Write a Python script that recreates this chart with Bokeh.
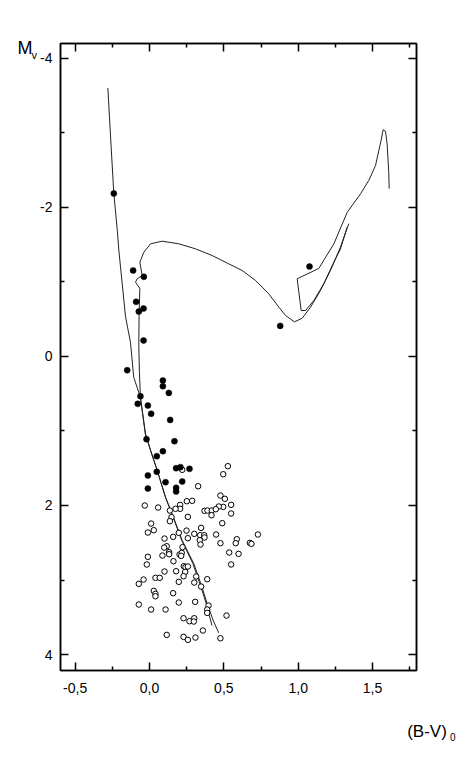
from bokeh.plotting import figure
from bokeh.models import (Range1d, LinearAxis, FixedTicker, CustomJSTickFormatter, Label)
from bokeh.embed import file_html
from bokeh.resources import INLINE

# ---------------- data ----------------
x_ticks = [-0.5, 0.0, 0.5, 1.0, 1.5]
x_minor = [-0.25, 0.25, 0.75, 1.25, 1.75]
y_ticks = [-4, -2, 0, 2, 4]
y_minor = [-3, -1, 1, 3]

# young isochrone (left line)
iso1_bv = [-0.280, -0.258, -0.240, -0.217, -0.206, -0.161, -0.128, -0.106, -0.061, -0.027,
           0.007, 0.052, 0.108, 0.152, 0.220, 0.298, 0.354, 0.388, 0.430, 0.466]
iso1_mv = [-3.60, -2.81, -2.19, -1.70, -1.42, -0.53, -0.19, 0.28, 0.55, 1.04,
           1.26, 1.53, 1.89, 2.11, 2.47, 2.78, 3.10, 3.32, 3.55, 3.71]

# older isochrone: main sequence, turnoff, subgiant and giant branch
iso2_bv = [0.420, 0.382, 0.347, 0.292, 0.217, 0.150, 0.107, 0.052, 0.007, -0.028,
           -0.061, -0.068, -0.072, -0.070, -0.065, -0.094, -0.083, -0.049, -0.065, -0.038,
           0.007, 0.085, 0.197, 0.309, 0.421, 0.533, 0.623, 0.713, 0.802, 0.870,
           0.915, 0.975, 1.027, 1.083, 1.150, 1.217, 1.284, 1.340]
iso2_mv = [3.61, 3.32, 3.10, 2.78, 2.47, 2.11, 1.89, 1.53, 1.26, 1.04,
           0.55, 0.20, -0.15, -0.55, -0.91, -0.995, -1.04, -1.085, -1.263, -1.397,
           -1.510, -1.545, -1.510, -1.443, -1.353, -1.241, -1.152, -1.018, -0.839, -0.660,
           -0.548, -0.463, -0.512, -0.660, -0.884, -1.152, -1.465, -1.78]

# clump / AGB loop of the older isochrone
loop_bv = [1.612, 1.609, 1.598, 1.587, 1.571, 1.558, 1.542, 1.520, 1.475, 1.419,
           1.329, 1.240, 1.172, 1.139, 0.993, 1.020, 1.049, 1.105, 1.172, 1.229,
           1.284, 1.329]
loop_mv = [-2.25, -2.47, -2.85, -3.02, -3.04, -2.90, -2.76, -2.56, -2.36, -2.18,
           -1.93, -1.51, -1.29, -1.18, -1.04, -0.615, -0.615, -0.749, -0.973, -1.219,
           -1.44, -1.733]

# filled circles
filled_bv = [-0.240, -0.110, -0.038, -0.090, -0.072, -0.040, -0.040, -0.150, 0.090, 0.090,
             0.130, -0.061, -0.079, -0.011, 0.011, 0.139, -0.020, 0.168, 0.090, 0.049,
             0.049, -0.011, -0.011, 0.108, 0.179, 0.208, 0.269, 0.179, 0.179, 0.220,
             1.076, 0.879]
filled_mv = [-2.185, -1.152, -1.067, -0.731, -0.601, -0.642, -0.213, 0.185, 0.324, 0.400,
             0.490, 0.534, 0.637, 0.660, 0.771, 0.852, 1.111, 1.138, 1.272, 1.339,
             1.549, 1.598, 1.773, 1.688, 1.500, 1.486, 1.509, 1.764, 1.813, 1.679,
             -1.205, -0.409]

# open circles
open_bv = [0.220, 0.527, 0.496, 0.327, 0.477, 0.507, 0.251, 0.287, 0.549, 0.496,
           0.466, -0.032, 0.058, 0.206, 0.206, 0.175, 0.137, 0.370, 0.390, 0.419,
           0.446, 0.417, 0.549, 0.258, 0.148, 0.137, 0.489, 0.011, 0.029, -0.011,
           0.197, 0.249, 0.347, 0.301, 0.341, 0.368, 0.370, 0.338, 0.343, 0.448,
           0.587, 0.580, 0.675, 0.686, 0.729, 0.477, 0.536, 0.599, 0.549, 0.258,
           0.159, 0.101, 0.116, 0.099, 0.132, 0.132, 0.087, 0.202, 0.217, 0.222,
           0.213, 0.161, -0.011, -0.018, 0.101, 0.179, 0.231, 0.242, 0.258, 0.240,
           0.229, 0.197, 0.314, 0.301, 0.388, 0.347, 0.040, 0.069, -0.040, -0.072,
           0.029, 0.040, 0.040, 0.159, 0.197, 0.307, -0.072, 0.011, 0.108, 0.397,
           0.388, 0.388, 0.518, 0.229, 0.269, 0.301, 0.298, 0.359, 0.116, 0.229,
           0.258, 0.309, 0.477]
open_mv = [1.522, 1.473, 1.581, 1.742, 1.867, 1.911, 1.943, 1.938, 1.992, 2.019,
           2.014, 2.001, 2.028, 1.992, 2.045, 2.045, 2.068, 2.072, 2.068, 2.068,
           2.050, 2.131, 2.108, 2.153, 2.157, 2.211, 2.238, 2.243, 2.332, 2.363,
           2.368, 2.337, 2.301, 2.381, 2.399, 2.399, 2.430, 2.466, 2.524, 2.390,
           2.453, 2.506, 2.502, 2.515, 2.390, 2.506, 2.631, 2.649, 2.792, 2.439,
           2.421, 2.444, 2.547, 2.565, 2.627, 2.654, 2.672, 2.658, 2.636, 2.560,
           2.676, 2.748, 2.689, 2.792, 2.886, 2.882, 2.815, 2.828, 2.819, 2.891,
           2.949, 3.025, 2.953, 3.034, 2.989, 3.088, 2.971, 2.971, 2.994, 3.052,
           3.146, 3.186, 3.218, 3.177, 3.302, 3.293, 3.329, 3.396, 3.396, 3.343,
           3.396, 3.441, 3.477, 3.513, 3.553, 3.513, 3.557, 3.678, 3.736, 3.763,
           3.803, 3.772, 3.781]

x_title = "(B-V)"
x_title_sub = "0"
y_title = "M"
y_title_sub = "v"

# ---------------- figure ----------------
FONT = "Liberation Sans"

p = figure(frame_width=356, frame_height=627,
           x_range=Range1d(-0.5985, 1.7956), y_range=Range1d(4.214, -4.197),
           output_backend="svg", toolbar_location=None,
           x_axis_location=None, y_axis_location=None,
           min_border_left=60, min_border_right=47, min_border_top=43, min_border_bottom=93,
           background_fill_color="white", border_fill_color="white")
p.xgrid.visible = False
p.ygrid.visible = False
p.outline_line_color = "black"
p.outline_line_width = 1.5

xfmt = CustomJSTickFormatter(code="return tick.toFixed(1).replace('.', ',');")
yfmt = CustomJSTickFormatter(code="return tick.toFixed(0);")
blank = CustomJSTickFormatter(code="return '';")


def make_axis(fmt, ticks, minor, show_labels, standoff):
    ax = LinearAxis(ticker=FixedTicker(ticks=ticks, minor_ticks=minor), formatter=fmt)
    ax.major_tick_in = 8
    ax.major_tick_out = 0
    ax.minor_tick_in = 4
    ax.minor_tick_out = 0
    ax.axis_line_width = 1.5
    ax.major_tick_line_width = 1.5
    ax.minor_tick_line_width = 1.5
    ax.axis_line_color = "black"
    ax.major_tick_line_color = "black"
    ax.minor_tick_line_color = "black"
    ax.major_label_standoff = standoff
    ax.major_label_text_font = FONT
    ax.major_label_text_font_size = "14px" if show_labels else "0px"
    ax.major_label_text_color = "black"
    return ax


p.add_layout(make_axis(xfmt, x_ticks, x_minor, True, 12), "below")
p.add_layout(make_axis(yfmt, y_ticks, y_minor, True, 8), "left")
p.add_layout(make_axis(blank, x_ticks, x_minor, False, 0), "above")
p.add_layout(make_axis(blank, y_ticks, y_minor, False, 0), "right")

line_color = "#222222"
p.line(iso1_bv, iso1_mv, line_color=line_color, line_width=1)
p.line(iso2_bv, iso2_mv, line_color=line_color, line_width=1)
p.line(loop_bv, loop_mv, line_color=line_color, line_width=1)

p.scatter(open_bv, open_mv, size=5.5, marker="circle", fill_color="white",
          line_color="black", line_width=1)
p.scatter(filled_bv, filled_mv, size=6, marker="circle", fill_color="black",
          line_color="black", line_width=0.5)

# axis titles placed in side panels (screen units, relative to each panel)
p.add_layout(Label(x=346.7, y=-17, x_units="screen", y_units="screen", text=x_title,
                   text_font=FONT, text_font_size="17px", text_baseline="alphabetic",
                   text_align="left", text_color="black"), "below")
p.add_layout(Label(x=389.5, y=-14.5, x_units="screen", y_units="screen", text=x_title_sub,
                   text_font=FONT, text_font_size="10px", text_baseline="alphabetic",
                   text_align="left", text_color="black"), "below")
p.add_layout(Label(x=-43, y=-4.7, x_units="screen", y_units="screen", text=y_title,
                   text_font=FONT, text_font_size="18px", text_baseline="alphabetic",
                   text_align="left", text_color="black"), "above")
p.add_layout(Label(x=-29, y=-31, x_units="screen", y_units="screen", text=y_title_sub,
                   text_font=FONT, text_font_size="11px", text_baseline="alphabetic",
                   text_align="left", text_color="black"), "above")

open("out.html", "w").write(file_html(p, INLINE))
